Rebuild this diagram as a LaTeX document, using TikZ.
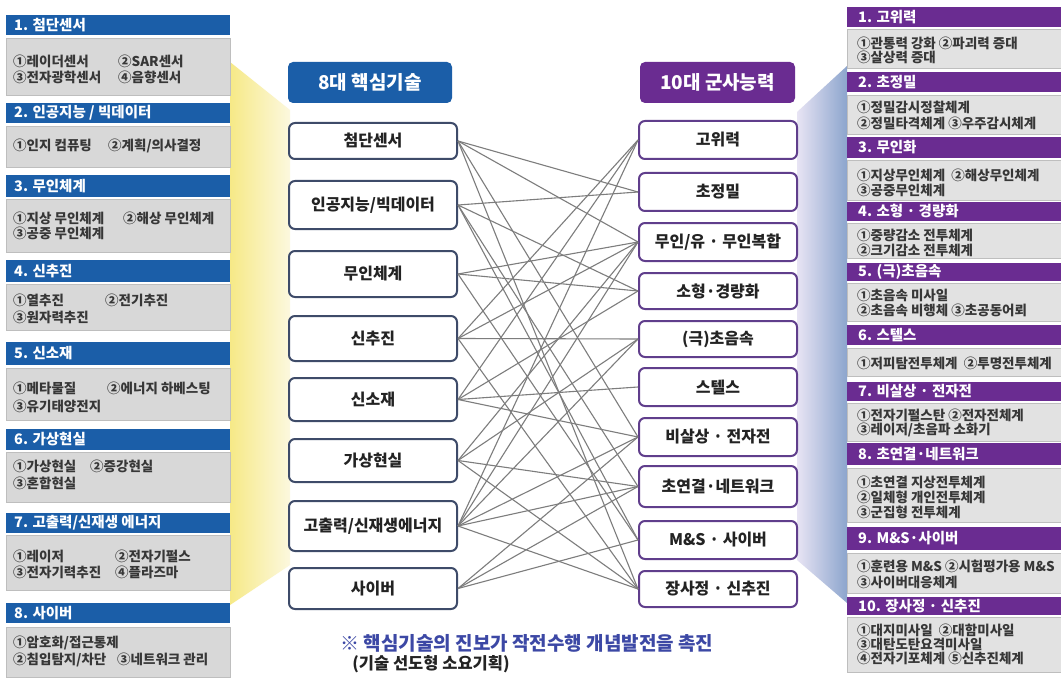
\documentclass[tikz,border=0pt]{standalone}
\usepackage{fontspec}
\setmainfont{Noto Sans CJK KR}
\definecolor{lblue}{RGB}{27,94,168}
\definecolor{lpurple}{RGB}{106,44,145}
\definecolor{lbody}{RGB}{216,216,216}
\definecolor{lbodyedge}{RGB}{190,190,190}
\definecolor{rbody}{RGB}{226,226,226}
\definecolor{lnb}{RGB}{62,75,105}
\definecolor{rnb}{RGB}{96,62,140}
\definecolor{linkgray}{RGB}{125,125,125}
\definecolor{txtgray}{RGB}{55,55,55}
\definecolor{txtdark}{RGB}{35,35,35}
\definecolor{yel}{RGB}{246,233,135}
\definecolor{yelpale}{RGB}{252,248,222}
\definecolor{bluefan}{RGB}{140,165,205}
\definecolor{lavfan}{RGB}{232,228,244}
\definecolor{notecol}{RGB}{60,72,165}
\newcommand\colbox[2]{\makebox[#1][l]{#2}}
\begin{document}
\begin{tikzpicture}[x=1pt,y=-1pt,
  htxt/.style={anchor=west, text=white, inner sep=0, font=\fontsize{14.5}{14.5}\selectfont\bfseries},
  itm/.style={anchor=west, inner sep=0, text=txtgray, font=\fontsize{13.5}{13.5}\selectfont\bfseries},
  lnode/.style={draw=lnb, line width=2pt, rounded corners=6pt, fill=white, minimum width=168pt, inner sep=0, text=txtdark, font=\fontsize{16}{16}\selectfont\bfseries},
  rnode/.style={draw=rnb, line width=2pt, rounded corners=6pt, fill=white, minimum width=158pt, inner sep=0, text=txtdark, font=\fontsize{16}{16}\selectfont\bfseries},
  hdr/.style={rounded corners=5pt, text=white, inner sep=0, font=\fontsize{19}{19}\selectfont\bfseries},
  link/.style={draw=linkgray, line width=1.1pt},
  lhead/.style={fill=lblue},
  rhead/.style={fill=lpurple},
  lbox/.style={fill=lbody, draw=lbodyedge, line width=0.8pt},
  rbox/.style={fill=rbody, draw=lbodyedge, line width=0.8pt}
]
\useasboundingbox (0,0) rectangle (1061,682);
\fill[white] (0,0) rectangle (1061,682);

% fans
\shade[left color=yel, right color=yelpale] (230,62) -- (290,110) -- (290,565) -- (230,605) -- cycle;
\shade[left color=lavfan, right color=bluefan] (797,112) -- (847,66) -- (847,603) -- (797,560) -- cycle;

% ---------- left panels ----------
\fill[lhead] (6,15) rectangle (230,35);   \node[htxt] (lp1h) at (14,25) {1. 첨단센서};
\filldraw[lbox] (6,38) rectangle (230,95);
\node[itm] (lp1a) at (13,61) {\colbox{105pt}{①레이더센서}②SAR센서};
\node[itm] (lp1b) at (13,77) {\colbox{105pt}{③전자광학센서}④음향센서};

\fill[lhead] (6,103) rectangle (230,123); \node[htxt] (lp2h) at (14,113) {2. 인공지능 / 빅데이터};
\filldraw[lbox] (6,126) rectangle (230,167);
\node[itm] (lp2a) at (13,146) {\colbox{95pt}{①인지 컴퓨팅}②계획/의사결정};

\fill[lhead] (6,175) rectangle (230,197); \node[htxt] (lp3h) at (14,186) {3. 무인체계};
\filldraw[lbox] (6,199) rectangle (230,252);
\node[itm] (lp3a) at (13,218) {\colbox{110pt}{①지상 무인체계}②해상 무인체계};
\node[itm] (lp3b) at (13,233) {③공중 무인체계};

\fill[lhead] (6,260) rectangle (230,282); \node[htxt] (lp4h) at (14,271) {4. 신추진};
\filldraw[lbox] (6,284) rectangle (230,330);
\node[itm] (lp4a) at (13,300) {\colbox{92pt}{①열추진}②전기추진};
\node[itm] (lp4b) at (13,317) {③원자력추진};

\fill[lhead] (6,342) rectangle (230,365); \node[htxt] (lp5h) at (14,353.5) {5. 신소재};
\filldraw[lbox] (6,368) rectangle (230,420);
\node[itm] (lp5a) at (13,388) {\colbox{94pt}{①메타물질}②에너지 하베스팅};
\node[itm] (lp5b) at (13,406) {③유기태양전지};

\fill[lhead] (6,429) rectangle (230,450); \node[htxt] (lp6h) at (14,439.5) {6. 가상현실};
\filldraw[lbox] (6,452) rectangle (230,502);
\node[itm] (lp6a) at (13,466) {\colbox{77pt}{①가상현실}②증강현실};
\node[itm] (lp6b) at (13,483) {③혼합현실};

\fill[lhead] (6,513) rectangle (230,533); \node[htxt] (lp7h) at (14,523) {7. 고출력/신재생 에너지};
\filldraw[lbox] (6,535) rectangle (230,590);
\node[itm] (lp7a) at (13,556) {\colbox{102pt}{①레이저}②전자기펄스};
\node[itm] (lp7b) at (13,572) {\colbox{102pt}{③전자기력추진}④플라즈마};

\fill[lhead] (6,603) rectangle (230,623); \node[htxt] (lp8h) at (14,613) {8. 사이버};
\filldraw[lbox] (6,627) rectangle (230,677);
\node[itm] (lp8a) at (13,643) {①암호화/접근통제};
\node[itm] (lp8b) at (13,660) {\colbox{104pt}{②침입탐지/차단}③네트워크 관리};

% ---------- right panels ----------
\fill[rhead] (847,7) rectangle (1061,27);    \node[htxt] (rp1h) at (858,17) {1. 고위력};
\filldraw[rbox] (847,29) rectangle (1061,68);
\node[itm] (rp1a) at (857,43) {①관통력 강화 ②파괴력 증대};
\node[itm] (rp1b) at (857,57) {③살상력 증대};

\fill[rhead] (847,72) rectangle (1061,92);   \node[htxt] (rp2h) at (858,82) {2. 초정밀};
\filldraw[rbox] (847,95) rectangle (1061,134);
\node[itm] (rp2a) at (857,107) {①정밀감시정찰체계};
\node[itm] (rp2b) at (857,123) {②정밀타격체계 ③우주감시체계};

\fill[rhead] (847,137) rectangle (1061,158); \node[htxt] (rp3h) at (858,147.5) {3. 무인화};
\filldraw[rbox] (847,160) rectangle (1061,200);
\node[itm] (rp3a) at (857,175) {①지상무인체계 \ ②해상무인체계};
\node[itm] (rp3b) at (857,190) {③공중무인체계};

\fill[rhead] (847,202) rectangle (1061,221); \node[htxt] (rp4h) at (858,211.5) {4. 소형 · 경량화};
\filldraw[rbox] (847,223) rectangle (1061,258);
\node[itm] (rp4a) at (857,235) {①중량감소 전투체계};
\node[itm] (rp4b) at (857,250) {②크기감소 전투체계};

\fill[rhead] (847,263) rectangle (1061,281); \node[htxt] (rp5h) at (858,272) {5. (극)초음속};
\filldraw[rbox] (847,283) rectangle (1061,321);
\node[itm] (rp5a) at (857,295) {①초음속 미사일};
\node[itm] (rp5b) at (857,310) {②초음속 비행체 ③초공동어뢰};

\fill[rhead] (847,325) rectangle (1061,345); \node[htxt] (rp6h) at (858,335) {6. 스텔스};
\filldraw[rbox] (847,348) rectangle (1061,376);
\node[itm] (rp6a) at (857,363) {①저피탐전투체계 \ ②투명전투체계};

\fill[rhead] (847,382) rectangle (1061,401); \node[htxt] (rp7h) at (858,391.5) {7. 비살상 · 전자전};
\filldraw[rbox] (847,403) rectangle (1061,441);
\node[itm] (rp7a) at (857,415) {①전자기펄스탄 ②전자전체계};
\node[itm] (rp7b) at (857,430) {③레이저/초음파 소화기};

\fill[rhead] (847,443) rectangle (1061,465); \node[htxt] (rp8h) at (858,454) {8. 초연결·네트워크};
\filldraw[rbox] (847,468) rectangle (1061,522);
\node[itm] (rp8a) at (857,482) {①초연결 지상전투체계};
\node[itm] (rp8b) at (857,497) {②일체형 개인전투체계};
\node[itm] (rp8c) at (857,512) {③군집형 전투체계};

\fill[rhead] (847,527) rectangle (1061,550); \node[htxt] (rp9h) at (858,538.5) {9. M\&S·사이버};
\filldraw[rbox] (847,553) rectangle (1061,593);
\node[itm] (rp9a) at (857,566) {①훈련용 M\&S ②시험평가용 M\&S};
\node[itm] (rp9b) at (857,582) {③사이버대응체계};

\fill[rhead] (847,597) rectangle (1061,615); \node[htxt] (rp10h) at (858,606) {10. 장사정 · 신추진};
\filldraw[rbox] (847,617) rectangle (1061,672);
\node[itm] (rp10a) at (857,630) {①대지미사일 \ ②대함미사일};
\node[itm] (rp10b) at (857,644) {③대탄도탄요격미사일};
\node[itm] (rp10c) at (857,658) {④전자기포체계 ⑤신추진체계};

% ---------- headers ----------
\node[hdr, fill=lblue, minimum width=164pt, minimum height=41pt] (h1) at (370,82.5) {8대 핵심기술};
\node[hdr, fill=lpurple, minimum width=155pt, minimum height=41pt] (h2) at (717.5,82.5) {10대 군사능력};

% ---------- left nodes ----------
\node[lnode, minimum height=36pt] (l1) at (373,141) {첨단센서};
\node[lnode, minimum height=48pt] (l2) at (373,205) {인공지능/빅데이터};
\node[lnode, minimum height=46pt] (l3) at (373,274) {무인체계};
\node[lnode, minimum height=45pt] (l4) at (373,338.5) {신추진};
\node[lnode, minimum height=43pt] (l5) at (373,399.5) {신소재};
\node[lnode, minimum height=43pt] (l6) at (373,460.5) {가상현실};
\node[lnode, minimum height=50pt] (l7) at (373,526) {고출력/신재생에너지};
\node[lnode, minimum height=41pt] (l8) at (373,588.5) {사이버};

% ---------- right nodes ----------
\node[rnode, minimum height=38pt] (r1) at (718,140) {고위력};
\node[rnode, minimum height=38pt] (r2) at (718,192) {초정밀};
\node[rnode, minimum height=38pt] (r3) at (718,242) {무인/유 · 무인복합};
\node[rnode, minimum height=36pt] (r4) at (718,291) {소형·경량화};
\node[rnode, minimum height=36pt] (r5) at (718,339) {(극)초음속};
\node[rnode, minimum height=38pt] (r6) at (718,387) {스텔스};
\node[rnode, minimum height=38pt] (r7) at (718,437) {비살상 · 전자전};
\node[rnode, minimum height=41pt] (r8) at (718,486.5) {초연결·네트워크};
\node[rnode, minimum height=38pt] (r9) at (718,540) {M\&S · 사이버};
\node[rnode, minimum height=36pt] (r10) at (718,589) {장사정 · 신추진};

% ---------- links ----------
\foreach \a/\b in {1/2,1/3,1/7,1/10,
                   2/2,2/4,2/8,2/9,
                   3/3,3/4,3/9,
                   4/1,4/3,4/5,4/10,
                   5/1,5/4,5/6,5/7,
                   6/3,6/5,6/8,6/10,
                   7/1,7/3,7/5,7/7,7/8,7/10,
                   8/7,8/8,8/9}
  \draw[link] (l\a.east) -- (r\b.west);

% ---------- note ----------
\node[inner sep=0, text=notecol, font=\fontsize{19}{19}\selectfont\bfseries] (note1) at (527,643) {※ 핵심기술의 진보가 작전수행 개념발전을 촉진};
\node[inner sep=0, text=txtdark, font=\fontsize{16.5}{16.5}\selectfont\bfseries] (note2) at (431,664) {(기술 선도형 소요기획)};
\end{tikzpicture}
\end{document}
